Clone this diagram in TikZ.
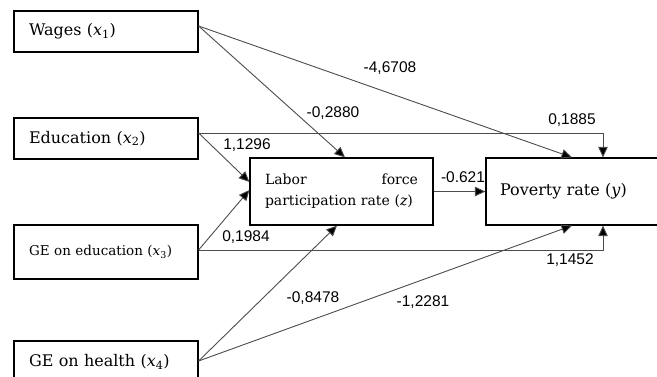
\documentclass[tikz,border=0pt]{standalone}
\usepackage{fontspec}
\setmainfont{DejaVu Serif}
\newfontfamily\lblfont{Liberation Sans}
\usetikzlibrary{arrows.meta,calc}
\newcommand{\vsub}[2]{\textit{#1}\textsubscript{#2}}
\begin{document}
\begin{tikzpicture}[x=1pt,y=-1pt,
  box/.style={draw=black,line width=1.2pt,minimum width=184pt,inner xsep=15pt,align=left,text width=154pt},
  conn/.style={draw=black!70,line width=0.9pt,-{Triangle[length=10.5pt,width=9.5pt,fill=black]}},
  lbl/.style={font=\lblfont\fontsize{15.5}{18}\selectfont,inner sep=0pt}]
\useasboundingbox (0,0) rectangle (657,377);
\node[box,minimum height=41pt,font=\fontsize{16}{19}\selectfont] (wages) at (106,31.5) {Wages (\vsub{x}{1})};
\node[box,minimum height=41pt,font=\fontsize{16}{19}\selectfont] (edu) at (106,138.5) {Education (\vsub{x}{2})};
\node[box,minimum height=54pt,font=\fontsize{13.5}{16}\selectfont] (gedu) at (106,252) {GE on education (\vsub{x}{3})};
\node[box,minimum height=42pt,font=\fontsize{16}{19}\selectfont] (ghealth) at (106,362) {GE on health (\vsub{x}{4})};
\node[box,minimum width=183pt,minimum height=67pt,text width=153pt,inner xsep=15pt,font=\fontsize{14}{21}\selectfont] (labor) at (341.5,191.5) {Labor\hfill force\\participation rate (\textit{z})};
\node[box,minimum width=179pt,minimum height=67pt,text width=151pt,inner xsep=14pt,font=\fontsize{16}{19}\selectfont] (pov) at (575.5,191.5) {Poverty rate (\textit{y})};
% connectors
\draw[conn] ([yshift=5.5pt]wages.east) -- ([xshift=3.5pt]labor.north);
\draw[conn] ([yshift=5.5pt]wages.east) -- ([xshift=-3.5pt]pov.north);
\draw[conn] ([yshift=5.5pt]edu.east) -| ([xshift=27.5pt]pov.north);
\draw[conn] ([yshift=5.5pt]edu.east) -- ([yshift=9.5pt]labor.west);
\draw[conn] ([yshift=2pt]gedu.east) -- ([yshift=1.5pt]labor.west);
\draw[conn] ([yshift=2pt]gedu.east) -| ([xshift=27.5pt]pov.south);
\draw[conn] ([yshift=1pt]ghealth.east) -- ([xshift=-4.5pt]labor.south);
\draw[conn] ([yshift=1pt]ghealth.east) -- ([xshift=-3.5pt]pov.south);
\draw[conn] (labor.east) -- (pov.west);
% labels
\node[lbl] (l1) at (390,68) {-4,6708};
\node[lbl] (l2) at (333,113) {-0,2880};
\node[lbl] (l3) at (572,120) {0,1885};
\node[lbl] (l4) at (247,145) {1,1296};
\node[lbl] (l5) at (463,177) {-0.621};
\node[lbl] (l6) at (246,237) {0,1984};
\node[lbl] (l7) at (570,260) {1,1452};
\node[lbl] (l8) at (313,298) {-0,8478};
\node[lbl] (l9) at (423,302) {-1,2281};
\end{tikzpicture}
\end{document}
